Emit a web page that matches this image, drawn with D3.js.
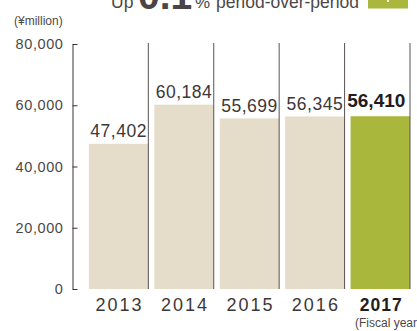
<!DOCTYPE html>
<meta charset="utf-8">
<style>
  body { margin: 0; background: #fff; }
  svg { display: block; font-family: "Liberation Sans", Arial, sans-serif; }
</style>
<svg width="417" height="331"></svg>
<script src="https://cdn.jsdelivr.net/npm/d3@7"></script>
<script>

var years = ["2013", "2014", "2015", "2016", "2017"];
var sales = [47402, 60184, 55699, 56345, 56410];
var yTicks = [0, 20000, 40000, 60000, 80000];
var highlight = "2017";

var svg = d3.select("svg");

var x = d3.scaleBand().domain(years).range([82.9, 410]).padding(0),
    y = d3.scaleLinear().domain([0, 80000]).range([289, 44]);

var bw = x.bandwidth(), gap = 6;
var fmt = d3.format(",");

// headline (cut off at the top of the crop)
var headColor = "#4d4848";
svg.append("text").attr("x", 111).attr("y", 7.5)
    .attr("fill", headColor).style("font-size", "17.5px").text("Up");
svg.append("text").attr("x", 138).attr("y", 8.5)
    .attr("fill", "#4a4444").style("font-size", "39px").style("font-weight", "bold")
    .text("0.1");
svg.append("text").attr("x", 195).attr("y", 7.5)
    .attr("fill", headColor).style("font-size", "17px").text("%");
svg.append("text").attr("x", 216).attr("y", 7.5)
    .attr("fill", headColor).style("font-size", "17.5px").text("period-over-period");

svg.append("rect")
    .attr("x", 368).attr("y", 0).attr("width", 40).attr("height", 8.5)
    .attr("fill", "#a9b73c");
svg.append("rect")
    .attr("x", 387).attr("y", 0).attr("width", 2).attr("height", 2)
    .attr("fill", "#fff");

// unit label
svg.append("text")
    .attr("x", 14).attr("y", 25)
    .attr("fill", headColor)
    .style("font-size", "12px")
    .text("(¥million)");

// bars
var data = years.map(function(d, i) { return {year: d, value: sales[i]}; });

svg.selectAll(".bar")
  .data(data)
  .enter().append("rect")
    .attr("class", "bar")
    .attr("x", function(d) { return x(d.year) + gap; })
    .attr("y", function(d) { return y(d.value); })
    .attr("width", bw - gap)
    .attr("height", function(d) { return y(0) - y(d.value); })
    .attr("fill", function(d) { return d.year == highlight ? "#a9b73c" : "#e5ddc9"; });

// separators
svg.selectAll(".sep")
  .data(years)
  .enter().append("line")
    .attr("class", "sep")
    .attr("x1", function(d) { return x(d) + bw; })
    .attr("x2", function(d) { return x(d) + bw; })
    .attr("y1", y(80000) - 1)
    .attr("y2", y(0))
    .attr("stroke", "#5a5252")
    .attr("stroke-width", 1);

// y axis
var yAxis = svg.append("g")
    .attr("transform", "translate(72.5,0)")
    .call(d3.axisLeft(y).tickValues(yTicks).tickSize(-5).tickSizeOuter(0).tickPadding(9)
      .tickFormat(fmt));
yAxis.select(".domain").attr("stroke", "#3c3434");
yAxis.selectAll(".tick line").attr("stroke", "#3c3434");
yAxis.selectAll(".tick text")
    .attr("fill", headColor)
    .style("font-size", "14.5px")
    .style("letter-spacing", "0.6px")
    .style("font-family", "Liberation Sans, Arial, sans-serif");

// value labels
svg.selectAll(".val")
  .data(data)
  .enter().append("text")
    .attr("class", "val")
    .attr("text-anchor", "middle")
    .attr("x", function(d) {
      return d.year == highlight ? x(d.year) + bw / 2 - 1 : x(d.year) + gap + (bw - gap) / 2;
    })
    .attr("y", function(d) { return y(d.value) - (d.year == highlight ? 9.5 : 6.5); })
    .attr("fill", function(d) { return d.year == highlight ? "#231c1c" : "#3d3737"; })
    .style("font-size", function(d) { return d.year == highlight ? "19px" : "17.5px"; })
    .style("font-weight", function(d) { return d.year == highlight ? "bold" : "normal"; })
    .style("letter-spacing", function(d) { return d.year == highlight ? "0px" : "0.5px"; })
    .text(function(d) { return fmt(d.value); });

// year labels
svg.selectAll(".yr")
  .data(years)
  .enter().append("text")
    .attr("class", "yr")
    .attr("text-anchor", "middle")
    .attr("x", function(d) { return x(d) + gap + (bw - gap) / 2 + 1; })
    .attr("y", 311)
    .attr("fill", function(d) { return d == highlight ? "#231c1c" : "#3d3737"; })
    .style("font-size", function(d) { return d == highlight ? "17.5px" : "18px"; })
    .style("font-weight", function(d) { return d == highlight ? "bold" : "normal"; })
    .style("letter-spacing", function(d) { return d == highlight ? "1px" : "2px"; })
    .text(function(d) { return d; });

svg.append("text")
    .attr("x", 355).attr("y", 327)
    .attr("fill", headColor)
    .style("font-size", "12px")
    .text("(Fiscal year)");

</script>
